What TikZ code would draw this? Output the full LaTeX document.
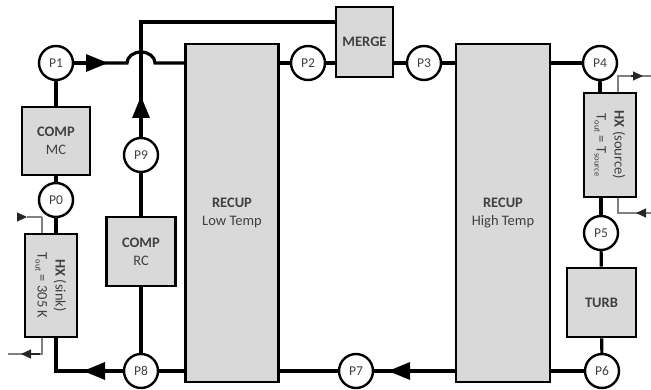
\documentclass[tikz,border=0pt]{standalone}
\usepackage{fontspec}
\setmainfont{Carlito}
\usepackage{tikz}
\usetikzlibrary{arrows.meta,calc}
\definecolor{boxgray}{rgb}{.85,.85,.85}
\definecolor{labelgray}{rgb}{.25,.25,.25}
\newcommand{\lowtext}[1]{\raisebox{-2pt}{\fontsize{8.5}{9}\selectfont #1}}
\tikzstyle{pipe} = [line width=3.2pt]
\tikzstyle{to} = [pipe,-{Triangle[length=22pt,width=17pt]}]
\tikzstyle{thinpipe} = [line width=1.2pt,draw=gray]
\tikzstyle{thinto} = [thinpipe,-{Triangle[length=10pt,width=9pt]},draw=black!85]
\tikzstyle{state} = [draw,circle,line width=2.4pt,minimum size=34pt,inner sep=0pt,fill=white,text=labelgray,font=\fontsize{13.5}{15}\selectfont]
\tikzstyle{unit} = [draw,line width=2.6pt,fill=boxgray,inner sep=0pt,text=labelgray,align=center,font=\fontsize{14.5}{18}\selectfont]
\tikzstyle{unittext} = [rotate=-90,align=center,text=labelgray,font=\fontsize{14.5}{18}\selectfont]
\begin{document}
\begin{tikzpicture}[x=1pt,y=1pt]
    \useasboundingbox (0,0) rectangle (651,389);
    % states
    \node[state] (P1) at (56,326) {P1};
    \node[state] (P0) at (56,189) {P0};
    \node[state] (P9) at (141,234) {P9};
    \node[state] (P8) at (141,18) {P8};
    \node[state] (P2) at (308,326) {P2};
    \node[state] (P3) at (424,326) {P3};
    \node[state] (P4) at (600,326) {P4};
    \node[state] (P5) at (601,156) {P5};
    \node[state] (P6) at (602,18) {P6};
    \node[state] (P7) at (356,18) {P7};
    % units
    \node[unit,minimum width=68pt,minimum height=68pt] (COMPmc) at (56,248) {\textbf{COMP}\\MC};
    \node[unit,minimum width=69pt,minimum height=69pt] (COMPrc) at (141,137.5) {\textbf{COMP}\\RC};
    \node[unit,minimum width=52pt,minimum height=103pt] (HXsink) at (51,103.5) {};
    \node[unittext] (HXsinktext) at (HXsink) {\textbf{HX} (sink)\\T\lowtext{out} = 305 K};
    \node[unit,minimum width=52pt,minimum height=104pt] (HXsource) at (610,244) {};
    \node[unittext] (HXsourcetext) at (HXsource) {\textbf{HX} (source)\\T\lowtext{out} = T\lowtext{source}};
    \node[unit,minimum width=69pt,minimum height=69pt] (TURB) at (601.5,86.5) {\textbf{TURB}};
    \node[unit,minimum width=57pt,minimum height=70pt] (MERGE) at (364.5,347) {\textbf{MERGE}};
    \node[unit,minimum width=93pt,minimum height=338pt] (RECUPlow) at (232,176) {\textbf{RECUP}\\Low Temp};
    \node[unit,minimum width=94pt,minimum height=338pt] (RECUPhigh) at (503,176) {\textbf{RECUP}\\High Temp};

    \coordinate (ArrOne) at (108,326);
    \coordinate (BumpIn) at (127,326);
    \coordinate (ArrNine) at (141,293);
    \coordinate (TopCorner) at (141,367);
    \coordinate (ArrEight) at (83,18);
    \coordinate (Corner) at (56,18);
    \coordinate (ArrSeven) at (388,18);

    % main loop
    \draw[pipe] (P0) -- (COMPmc);
    \draw[pipe] (COMPmc) -- (P1);
    \draw[to] (P1) -- (ArrOne);
    \draw[pipe] (P1) -- (BumpIn) arc[start angle=180,end angle=0,x radius=14,y radius=11] -- (RECUPlow.west |- BumpIn);
    \draw[pipe] (RECUPlow.east |- P2) -- (P2);
    \draw[pipe] (P2) -- (MERGE.west |- P2);
    \draw[pipe] (MERGE.east |- P3) -- (P3);
    \draw[pipe] (P3) -- (RECUPhigh.west |- P3);
    \draw[pipe] (RECUPhigh.east |- P4) -- (P4);
    \draw[pipe] (P4) -- (P4 |- HXsource.north);
    \draw[pipe] (P5 |- HXsource.south) -- (P5);
    \draw[pipe] (P5) -- (TURB);
    \draw[pipe] (TURB) -- (P6);
    \draw[pipe] (P6) -- (RECUPhigh.east |- P6);
    \draw[to] (RECUPhigh.west |- P7) -- (ArrSeven);
    \draw[pipe] (RECUPhigh.west |- P7) -- (P7);
    \draw[pipe] (P7) -- (RECUPlow.east |- P7);
    \draw[pipe] (RECUPlow.west |- P8) -- (P8);
    \draw[to] (P8) -- (ArrEight);
    \draw[pipe] (P8) -- (Corner) -- (Corner |- HXsink.south);
    \draw[pipe] (P0) -- (P0 |- HXsink.north);
    % recompression
    \draw[pipe] (P8) -- (COMPrc);
    \draw[pipe] (COMPrc) -- (P9);
    \draw[to] (P9) -- (ArrNine);
    \draw[pipe] (P9) -- (TopCorner) -- (TopCorner -| MERGE.west);

    % sink and source streams
    \coordinate (SinkIn) at (42,172);
    \coordinate (SinkOut) at (42,35);
    \coordinate (SourceOut) at (618,313);
    \coordinate (SourceIn) at (618,176);
    \draw[thinpipe] (SinkIn |- HXsink.north) -- (SinkIn);
    \draw[thinto] (17,172) -- (27,172);
    \draw[thinpipe] (27,172) -- (SinkIn);
    \draw[thinpipe] (SinkOut |- HXsink.south) -- (SinkOut) -- (8,35);
    \draw[thinto] (40,35) -- (21,35);
    \draw[thinpipe] (SourceOut |- HXsource.north) -- (SourceOut) -- (651,313);
    \draw[thinto] (631,313) -- (643,313);
    \draw[thinpipe] (SourceIn |- HXsource.south) -- (SourceIn) -- (651,176);
    \draw[thinto] (645,176) -- (636,176);
\end{tikzpicture}
\end{document}
